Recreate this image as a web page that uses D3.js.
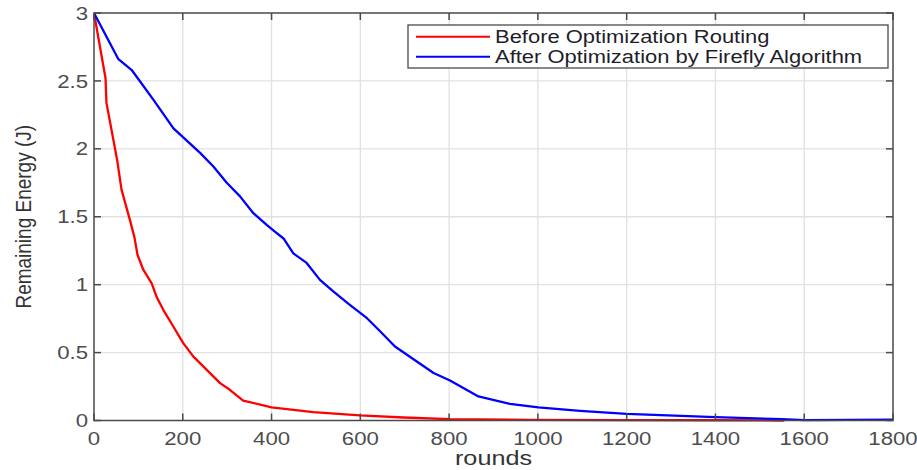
<!DOCTYPE html>
<html>
<head>
<meta charset="utf-8">
<script src="https://cdn.jsdelivr.net/npm/d3@7"></script>
<style>
  html, body { margin: 0; padding: 0; background: #fff; }
  svg { display: block; }
  text { font-family: "Liberation Sans", Arial, sans-serif; }
</style>
</head>
<body>
<svg id="chart" width="917" height="470"></svg>
<script>
// ---- data ----
const beforeRounds = [0, 26, 28, 52, 62, 81, 91, 98, 111, 130, 141, 156, 179, 201, 224, 254, 284, 306, 336, 400, 494, 599, 697, 802, 982, 1200, 1400, 1555];
const beforeEnergy = [3, 2.52, 2.34, 1.92, 1.70, 1.475, 1.35, 1.22, 1.11, 1.01, 0.91, 0.815, 0.69, 0.57, 0.47, 0.373, 0.275, 0.226, 0.147, 0.096, 0.062, 0.037, 0.022, 0.010, 0.005, 0.003, 0.002, 0.0];
const afterRounds = [0, 55, 85, 134, 179, 239, 269, 299, 329, 359, 389, 404, 427, 449, 479, 509, 539, 577, 615, 645, 678, 765, 802, 866, 937, 1001, 1095, 1200, 1400, 1550, 1600, 1800];
const afterEnergy = [3, 2.66, 2.58, 2.36, 2.15, 1.97, 1.87, 1.75, 1.65, 1.526, 1.44, 1.40, 1.34, 1.23, 1.16, 1.035, 0.95, 0.85, 0.753, 0.655, 0.545, 0.35, 0.294, 0.177, 0.123, 0.096, 0.071, 0.049, 0.025, 0.010, 0.003, 0.006];
const xTicks = [0, 200, 400, 600, 800, 1000, 1200, 1400, 1600, 1800];
const yTicks = [0, 0.5, 1, 1.5, 2, 2.5, 3];
const yTickLabels = ["0", "0.5", "1", "1.5", "2", "2.5", "3"];
const seriesNames = ["Before Optimization Routing", "After Optimization by Firefly Algorithm"];
const seriesColors = ["#ff0000", "#0000ff"];
const xLabel = "rounds";
const yLabel = "Remaining Energy (J)";

// ---- layout ----
const L = 94, R = 893, T = 13, B = 420.5;
const SX = 1.2; // horizontal stretch of text seen in reference
const axisColor = "#4a4a4a";
const svg = d3.select("#chart");

const x = d3.scaleLinear().domain([0, 1800]).range([L, R]);
const y = d3.scaleLinear().domain([0, 3]).range([B, T]);

// grid
const grid = svg.append("g");
grid.selectAll(".vg").data(xTicks.slice(1, -1)).enter().append("line")
  .attr("x1", d => x(d)).attr("x2", d => x(d)).attr("y1", T).attr("y2", B)
  .attr("stroke", "#e1e1e1").attr("stroke-width", 1.3);
grid.selectAll(".hg").data(yTicks.slice(1, -1)).enter().append("line")
  .attr("y1", d => y(d)).attr("y2", d => y(d)).attr("x1", L).attr("x2", R)
  .attr("stroke", "#e1e1e1").attr("stroke-width", 1.3);

// lines
const line = d3.line().x(d => x(d[0])).y(d => y(d[1]));
const beforeData = beforeRounds.map((r, i) => [r, beforeEnergy[i]]);
const afterData = afterRounds.map((r, i) => [r, afterEnergy[i]]);
svg.append("path").datum(beforeData).attr("d", line)
  .attr("fill", "none").attr("stroke", seriesColors[0]).attr("stroke-width", 2.3).attr("stroke-linejoin", "round");
svg.append("path").datum(afterData).attr("d", line)
  .attr("fill", "none").attr("stroke", seriesColors[1]).attr("stroke-width", 2.3).attr("stroke-linejoin", "round");

// box and ticks
const axG = svg.append("g");
axG.append("rect").attr("x", L).attr("y", T).attr("width", R - L).attr("height", B - T)
  .attr("fill", "none").attr("stroke", axisColor).attr("stroke-width", 1.5);
const tl = 7;
xTicks.forEach(d => {
  axG.append("line").attr("x1", x(d)).attr("x2", x(d)).attr("y1", B).attr("y2", B - tl).attr("stroke", axisColor).attr("stroke-width", 1.5);
  axG.append("line").attr("x1", x(d)).attr("x2", x(d)).attr("y1", T).attr("y2", T + tl).attr("stroke", axisColor).attr("stroke-width", 1.5);
});
yTicks.forEach(d => {
  axG.append("line").attr("y1", y(d)).attr("y2", y(d)).attr("x1", L).attr("x2", L + tl).attr("stroke", axisColor).attr("stroke-width", 1.5);
  axG.append("line").attr("y1", y(d)).attr("y2", y(d)).attr("x1", R).attr("x2", R - tl).attr("stroke", axisColor).attr("stroke-width", 1.5);
});

// tick labels
const tickColor = "#4d4d4d";
xTicks.forEach(d => {
  svg.append("text").attr("transform", `translate(${x(d)},445) scale(${SX},1)`)
    .attr("text-anchor", "middle").attr("font-size", 18.5).attr("fill", tickColor).text(d);
});
yTicks.forEach((d, i) => {
  svg.append("text").attr("transform", `translate(88,${y(d)}) scale(${SX},1)`)
    .attr("text-anchor", "end").attr("dy", "0.36em").attr("font-size", 18.5).attr("fill", tickColor).text(yTickLabels[i]);
});

// axis labels
svg.append("text").attr("transform", `translate(${(L + R) / 2},465) scale(${SX},1)`)
  .attr("text-anchor", "middle").attr("font-size", 21).attr("fill", "#333").text(xLabel);
svg.append("text").attr("transform", `translate(30.5,${(T + B) / 2}) scale(${SX},1) rotate(-90)`)
  .attr("text-anchor", "middle").attr("font-size", 19).attr("fill", "#333").text(yLabel);

// legend
const lg = svg.append("g");
lg.append("rect").attr("x", 408).attr("y", 25).attr("width", 480).attr("height", 43)
  .attr("fill", "#fff").attr("stroke", axisColor).attr("stroke-width", 1.3);
seriesNames.forEach((name, i) => {
  const ly = 36.7 + i * 20;
  lg.append("line").attr("x1", 416).attr("x2", 490).attr("y1", ly).attr("y2", ly)
    .attr("stroke", seriesColors[i]).attr("stroke-width", 2);
  lg.append("text").attr("transform", `translate(495,${ly}) scale(${SX},1)`)
    .attr("dy", "0.36em").attr("font-size", 18.3).attr("fill", "#1e1e2a").text(name);
});
</script>
</body>
</html>
